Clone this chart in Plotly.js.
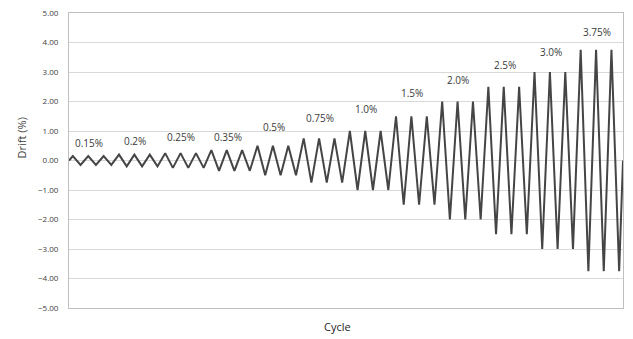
<!DOCTYPE html>
<html>
<head>
<meta charset="utf-8">
<script src="https://cdn.plot.ly/plotly-3.0.1.min.js"></script>
<style>html,body{margin:0;padding:0;background:#fff;}#chart{width:633px;height:339px;}</style>
</head>
<body>
<div id="chart"></div>
<script>
// Drift amplitude (%) of each loading level, 3 cycles per level
const levels = [0.15, 0.2, 0.25, 0.35, 0.5, 0.75, 1.0, 1.5, 2.0, 2.5, 3.0, 3.75];
const cyclesPerLevel = [3, 3, 3, 3, 3, 3, 3, 3, 3, 3, 3, 3];
const levelLabels = ["0.15%", "0.2%", "0.25%", "0.35%", "0.5%", "0.75%", "1.0%", "1.5%", "2.0%", "2.5%", "3.0%", "3.75%"];
const yTickVals = [-5, -4, -3, -2, -1, 0, 1, 2, 3, 4, 5];

// build the zigzag protocol: 0 -> +A -> -A ... -> 0
const xs = [0], ys = [0];
let k = 0;
const groupCenter = [];
levels.forEach((A, i) => {
  const start = k;
  for (let c = 0; c < cyclesPerLevel[i]; c++) {
    xs.push(k + 0.25); ys.push(A);
    xs.push(k + 0.75); ys.push(-A);
    k++;
  }
  groupCenter.push((start + k) / 2);
});
xs.push(k); ys.push(0);

// label heights (placement above each group)
const labelY = [0.6, 0.67, 0.8, 0.8, 1.14, 1.45, 1.75, 2.3, 2.74, 3.24, 3.68, 4.36];

const annotations = levelLabels.map((t, i) => ({
  x: groupCenter[i], y: labelY[i], xref: 'x', yref: 'y',
  text: t, showarrow: false, xshift: -3,
  font: {family: 'Open Sans, sans-serif', size: 10, color: '#3a3a3a'}
}));
annotations.push({
  xref: 'paper', yref: 'paper', x: 0.484, y: 0, yshift: -18,
  yanchor: 'middle', text: 'Cycle', showarrow: false,
  font: {family: 'Open Sans, sans-serif', size: 11, color: '#262626'}
});
annotations.push({
  xref: 'paper', yref: 'paper', x: 0, xshift: -48, y: 0.575,
  xanchor: 'center', yanchor: 'middle', textangle: -90, text: 'Drift (%)', showarrow: false,
  font: {family: 'Open Sans, sans-serif', size: 11, color: '#404040'}
});

Plotly.newPlot('chart', [{
  x: xs, y: ys, type: 'scatter', mode: 'lines',
  line: {color: '#454545', width: 2}, hoverinfo: 'none'
}], {
  width: 633, height: 339,
  margin: {l: 68.5, r: 10, t: 13, b: 30.5},
  paper_bgcolor: '#ffffff', plot_bgcolor: '#ffffff',
  showlegend: false,
  xaxis: {range: [0, k], showgrid: false, zeroline: false, showticklabels: false,
          ticks: '', showline: true, linecolor: '#bfbfbf', linewidth: 1, mirror: true, fixedrange: true},
  yaxis: {range: [-5, 5], tickvals: yTickVals, tickformat: '.2f', showgrid: true, gridcolor: '#d9d9d9',
          zeroline: false, showline: true, linecolor: '#bfbfbf', linewidth: 1, mirror: true,
          ticks: 'outside', ticklen: 8, tickcolor: 'rgba(0,0,0,0)',
          tickfont: {family: 'Open Sans, sans-serif', size: 8, color: '#404040'}, fixedrange: true},
  annotations: annotations
}, {displayModeBar: false, staticPlot: true});
</script>
</body>
</html>
